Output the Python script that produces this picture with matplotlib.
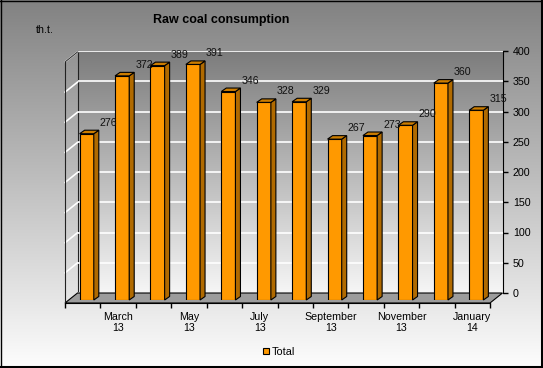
import matplotlib
matplotlib.use('Agg')
import matplotlib.pyplot as plt
import numpy as np
from matplotlib.patches import Polygon
from matplotlib.lines import Line2D
from matplotlib.colors import LinearSegmentedColormap

plt.rcParams['font.family'] = ['Liberation Sans', 'DejaVu Sans']

# ---- data ----
months = ['February\n13', 'March\n13', 'April\n13', 'May\n13', 'June\n13', 'July\n13',
          'August\n13', 'September\n13', 'October\n13', 'November\n13', 'December\n13', 'January\n14']
values = [276, 372, 389, 391, 346, 328, 329, 267, 273, 290, 360, 315]
y_ticks = [0, 50, 100, 150, 200, 250, 300, 350, 400]
series_name = 'Total'
title = 'Raw coal consumption'
unit = 'th.t.'

W, H = 543, 368
fig = plt.figure(figsize=(W / 100, H / 100), dpi=100)


def box(l, t, r, b):
    return [l / W, 1 - b / H, (r - l) / W, (b - t) / H]


# background gradient
bg = fig.add_axes([0, 0, 1, 1])
bg.axis('off')
grad = np.linspace(0, 1, 256).reshape(-1, 1)
bg.imshow(grad, aspect='auto', extent=[0, 1, 0, 1], origin='upper',
          cmap=LinearSegmentedColormap.from_list('bg', ['#828282', '#fdfdfd']))
bg.set_xlim(0, 1)
bg.set_ylim(0, 1)
for (xs, ys, lw) in [([0.5 / W, 0.5 / W], [0, 1], 1.0), ([0, 1], [1 - 0.5 / H, 1 - 0.5 / H], 1.0),
                     ([1 - 1.5 / W, 1 - 1.5 / W], [0, 1], 2.2), ([0, 1], [1.5 / H, 1.5 / H], 2.2)]:
    bg.add_line(Line2D(xs, ys, color='black', lw=lw, transform=bg.transAxes, clip_on=False))

nx = len(values)
ymax = 400

# back wall
ax_back = fig.add_axes(box(77.5, 51, 502.5, 293))
ax_back.imshow(grad, aspect='auto', extent=[0, nx, 0, ymax], origin='upper', zorder=0,
               cmap=LinearSegmentedColormap.from_list('wall', ['#7c7c7c', '#f6f6f6']))
ax_back.set_xlim(0, nx)
ax_back.set_ylim(0, ymax)
ax_back.set_axisbelow(False)
ax_back.set_yticks(y_ticks)
ax_back.yaxis.grid(True, color='white', lw=1.2)
ax_back.set_xticks([])
ax_back.yaxis.tick_right()
ax_back.tick_params(axis='y', direction='out', length=3.5, width=1, pad=4, labelsize=7.7,
                    colors='black')
for s in ['top', 'bottom']:
    ax_back.spines[s].set_visible(False)
ax_back.spines['left'].set_color('#222222')
ax_back.spines['right'].set_color('black')

# front plane (floor, left wall, category axis)
ax_front = fig.add_axes(box(65, 62, 490, 303))
ax_front.set_facecolor('none')
ax_front.set_xlim(0, nx)
ax_front.set_ylim(0, ymax)
dxu = 12.5 / 425 * nx
dyu = 10 / 241 * ymax
ax_front.add_patch(Polygon([(0, 0), (nx, 0), (nx + dxu, dyu), (dxu, dyu)], closed=True,
                           facecolor='#9c9c9c', edgecolor='black', lw=0.8, clip_on=False))
for v in y_ticks[1:]:
    ax_front.add_line(Line2D([0, dxu], [v, v + dyu], color='white', lw=1.2, clip_on=False))
ax_front.add_line(Line2D([0, dxu], [ymax, ymax + dyu], color='#333333', lw=0.8, clip_on=False))
for s in ['top', 'right']:
    ax_front.spines[s].set_visible(False)
ax_front.spines['left'].set_color('#222222')
ax_front.set_yticks([])
ax_front.set_xticks(range(nx + 1))
ax_front.set_xticklabels([''] * (nx + 1))
ax_front.tick_params(axis='x', which='major', direction='out', length=3.5, width=1)
centers = [i + 0.5 for i in range(1, nx, 2)]
ax_front.set_xticks(centers, minor=True)
ax_front.set_xticklabels(months[1::2], minor=True, fontsize=7.7, linespacing=1.1)
ax_front.tick_params(axis='x', which='minor', length=0, pad=6.5)

# bars
ax_bar = fig.add_axes(box(69, 59, 494, 300))
ax_bar.set_facecolor('none')
ax_bar.axis('off')
ax_bar.set_xlim(0, nx)
ax_bar.set_ylim(0, ymax)
bw = 0.4
sdx = 5 / 425 * nx
sdy = 3.5 / 241 * ymax
xs = np.arange(nx) + 0.5
bars = ax_bar.bar(xs, values, width=bw, color='#FF9900', edgecolor='black', lw=0.8, zorder=3)
for x, v in zip(xs, values):
    r = x + bw / 2
    l = x - bw / 2
    ax_bar.add_patch(Polygon([(r, 0), (r + sdx, sdy), (r + sdx, v + sdy), (r, v)], closed=True,
                             facecolor='#B06A00', edgecolor='black', lw=0.8, zorder=3, clip_on=False))
    ax_bar.add_patch(Polygon([(l, v), (r, v), (r + sdx, v + sdy), (l + sdx, v + sdy)], closed=True,
                             facecolor='#CC7D00', edgecolor='black', lw=0.8, zorder=3, clip_on=False))
    ax_bar.annotate(str(v), (x, v), xytext=(22, 11), textcoords='offset pixels',
                    ha='center', va='center', fontsize=7.7, color='#111111',
                    annotation_clip=False, zorder=5)

fig.text(221 / W, 1 - 20 / H, title, ha='center', va='center', fontweight='bold', fontsize=9)
fig.text(45 / W, 1 - 30 / H, unit, ha='center', va='center', fontsize=7.7)
fig.legend([bars], [series_name], loc='center', bbox_to_anchor=(279 / W, 1 - 352 / H),
           frameon=False, fontsize=7.8, handlelength=0.5, handleheight=0.5, handletextpad=0.25)

fig.savefig('out.png', dpi=100)
